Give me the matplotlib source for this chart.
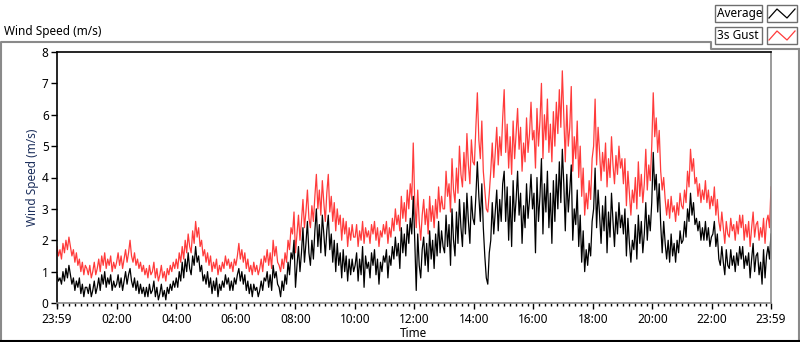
import numpy as np
from matplotlib import pyplot as plt
from matplotlib.lines import Line2D
from matplotlib.patches import Rectangle

plt.rcParams["font.family"] = ["Noto Sans", "DejaVu Sans"]

# 3-minute samples, one row per hour, starting 23:59
gust = [
    1.8, 1.5, 1.7, 1.4, 1.9, 1.6, 2.0, 1.7, 2.1, 1.8, 1.5, 1.7, 1.3, 1.6, 1.2, 1.4, 1.0, 1.3, 0.9, 1.2,
    1.1, 0.9, 1.2, 0.8, 1.0, 1.3, 0.9, 1.1, 1.4, 1.0, 1.5, 1.2, 1.6, 1.1, 1.4, 1.2, 1.5, 1.0, 1.3, 1.1,
    1.3, 1.6, 1.2, 1.5, 1.1, 1.4, 1.7, 1.3, 1.6, 2.0, 1.5, 1.3, 1.6, 1.2, 1.4, 1.1, 1.3, 1.0, 1.2, 0.9,
    1.1, 0.8, 1.2, 0.9, 1.0, 1.3, 0.8, 1.1, 0.7, 0.9, 1.2, 0.8, 1.0, 0.7, 1.1, 0.9, 1.2, 1.0, 1.3, 1.1,
    1.4, 1.1, 1.6, 1.3, 1.8, 1.4, 2.0, 1.6, 2.2, 1.8, 1.6, 2.3, 1.9, 2.6, 2.1, 2.4, 1.8, 2.0, 1.5, 1.7,
    1.3, 1.6, 1.2, 1.5, 1.0, 1.3, 1.1, 1.4, 0.9, 1.2, 1.0, 1.3, 1.1, 1.5, 1.2, 1.4, 1.1, 1.3, 1.0, 1.4,
    1.2, 1.5, 1.9, 1.4, 1.7, 1.3, 1.6, 1.1, 1.4, 1.0, 1.2, 0.9, 1.3, 1.0, 1.2, 0.9, 1.1, 1.4, 1.0, 1.5,
    1.3, 1.7, 1.2, 1.6, 1.1, 2.0, 1.5, 1.8, 1.3, 1.2, 1.0, 1.4, 1.1, 1.6, 1.3, 2.0, 1.7, 2.4, 2.2, 2.9,
    1.6, 2.2, 2.8, 2.0, 2.6, 3.3, 2.4, 2.9, 3.6, 2.7, 2.4, 3.1, 2.6, 3.4, 4.1, 3.0, 3.6, 2.8, 3.9, 3.2,
    2.6, 3.5, 4.1, 2.9, 3.4, 2.6, 3.2, 2.3, 3.0, 2.5, 2.8, 2.0, 2.7, 2.2, 2.6, 1.8, 2.4, 2.0, 2.5, 2.1,
    2.1, 2.5, 1.8, 2.3, 2.0, 2.6, 1.9, 2.4, 2.1, 2.3, 1.9, 2.5, 2.2, 2.6, 2.0, 2.4, 1.8, 2.3, 2.1, 2.5,
    2.2, 2.6, 1.9, 2.4, 2.1, 2.7, 2.3, 3.0, 2.5, 2.8, 2.3, 3.4, 2.7, 3.2, 2.6, 3.6, 3.0, 3.8, 3.3, 5.1,
    3.2, 2.4, 3.6, 2.6, 2.0, 2.8, 3.3, 2.5, 3.0, 2.2, 3.4, 2.6, 3.1, 2.4, 3.3, 2.7, 3.7, 2.9, 3.4, 3.0,
    3.0, 4.2, 3.4, 3.8, 2.9, 4.6, 3.6, 3.2, 4.3, 3.5, 5.0, 4.1, 3.7, 4.8, 3.9, 5.4, 4.4, 3.8, 5.2, 4.5,
    4.4, 5.6, 6.7, 5.2, 4.6, 5.8, 4.2, 3.6, 3.0, 2.9, 3.5, 4.2, 5.1, 4.0, 4.8, 5.6, 4.4, 5.3, 4.7, 5.9,
    6.8, 4.8, 5.7, 4.3, 5.3, 4.1, 5.8, 4.6, 5.4, 6.2, 4.9, 5.6, 4.2, 5.1, 4.5, 5.9, 4.8, 5.4, 6.4, 5.2,
    5.5, 4.3, 6.2, 5.0, 5.8, 7.0, 4.6, 6.0, 5.2, 6.5, 4.8, 5.7, 4.5, 6.1, 5.0, 6.4, 5.4, 6.8, 5.6, 7.4,
    5.9, 4.5, 6.3, 5.0, 5.6, 6.9, 4.2, 5.3, 4.6, 5.8, 4.0, 5.0, 3.4, 4.3, 2.8, 3.5, 3.0, 3.9, 3.3, 4.6,
    5.0, 6.5, 4.4, 5.6, 4.8, 3.9, 4.8, 4.2, 5.1, 3.7, 4.6, 4.0, 5.3, 4.4, 3.8, 4.7, 4.1, 5.0, 4.3, 4.6,
    3.8, 4.6, 3.1, 4.2, 3.5, 2.8, 3.6, 3.2, 4.0, 3.0, 4.5, 3.4, 4.1, 3.2, 3.8, 4.9, 3.6, 4.4, 3.9, 5.0,
    6.7, 5.3, 5.9, 4.8, 5.5, 4.2, 3.6, 4.0, 3.3, 2.8, 3.3, 2.7, 3.4, 2.9, 3.1, 2.6, 3.2, 2.8, 3.5, 3.1,
    3.0, 3.6, 3.2, 4.2, 3.7, 4.9, 4.2, 4.6, 3.8, 4.0, 3.4, 3.8, 3.2, 3.6, 3.3, 3.9, 3.2, 3.6, 3.0, 3.4,
    3.1, 3.7, 2.8, 3.3, 2.6, 2.3, 2.9, 2.4, 1.9, 2.6, 2.2, 2.1, 2.7, 2.3, 2.5, 2.0, 2.6, 2.2, 2.8, 2.4,
    2.8, 2.0, 2.5, 2.1, 2.6, 1.8, 2.4, 2.9, 2.1, 2.5, 2.6, 2.0, 2.4, 2.1, 2.7, 1.9, 2.6, 2.8, 2.4, 3.7,
]
average = [
    0.9, 0.7, 0.8, 0.6, 1.0, 0.7, 1.1, 0.8, 1.2, 0.9, 0.6, 0.8, 0.4, 0.7, 0.5, 0.8, 0.3, 0.6, 0.2, 0.5,
    0.5, 0.3, 0.6, 0.2, 0.4, 0.7, 0.3, 0.5, 0.8, 0.4, 0.9, 0.6, 1.0, 0.5, 0.8, 0.6, 0.9, 0.4, 0.7, 0.5,
    0.6, 0.9, 0.5, 0.8, 0.4, 0.7, 1.0, 0.6, 0.9, 1.1, 0.7, 0.5, 0.8, 0.4, 0.7, 0.3, 0.6, 0.3, 0.5, 0.2,
    0.5, 0.2, 0.6, 0.3, 0.4, 0.7, 0.2, 0.5, 0.1, 0.3, 0.6, 0.2, 0.4, 0.1, 0.5, 0.3, 0.6, 0.4, 0.7, 0.5,
    0.8, 0.5, 1.0, 0.7, 1.3, 0.8, 1.4, 1.0, 1.6, 1.1, 0.9, 1.5, 1.2, 1.8, 1.3, 1.5, 1.0, 1.2, 0.7, 0.9,
    0.6, 1.0, 0.5, 0.8, 0.3, 0.7, 0.4, 0.8, 0.2, 0.6, 0.4, 0.7, 0.5, 0.9, 0.6, 0.8, 0.4, 0.7, 0.4, 0.8,
    0.6, 0.9, 1.1, 0.7, 1.0, 0.6, 0.9, 0.4, 0.7, 0.3, 0.6, 0.2, 0.6, 0.4, 0.5, 0.2, 0.4, 0.7, 0.4, 0.8,
    0.7, 1.0, 0.5, 0.9, 0.4, 1.2, 0.8, 1.0, 0.6, 0.5, 0.2, 0.7, 0.4, 0.9, 0.6, 1.3, 0.9, 1.6, 1.4, 2.0,
    0.5, 1.2, 1.8, 1.0, 1.6, 2.4, 1.3, 1.9, 2.6, 1.6, 1.2, 2.0, 1.4, 2.3, 3.0, 1.8, 2.5, 1.6, 2.8, 2.2,
    1.5, 2.3, 2.8, 1.7, 2.2, 1.3, 2.0, 1.0, 1.9, 1.2, 1.6, 0.8, 1.7, 1.0, 1.5, 0.7, 1.4, 0.9, 1.4, 1.0,
    1.2, 1.6, 0.7, 1.4, 0.9, 1.8, 0.5, 1.5, 1.1, 1.3, 0.8, 1.6, 1.2, 1.7, 0.9, 1.4, 0.6, 1.3, 1.0, 1.5,
    1.3, 1.7, 0.8, 1.5, 1.2, 1.8, 1.4, 2.1, 1.5, 1.9, 1.1, 2.4, 1.6, 2.2, 1.5, 2.5, 1.9, 2.7, 2.2, 3.4,
    2.0, 0.4, 2.2, 1.2, 0.8, 1.7, 2.1, 1.2, 1.9, 1.0, 2.3, 1.4, 2.0, 1.1, 2.2, 1.5, 2.6, 1.6, 2.3, 1.8,
    1.6, 2.8, 1.8, 2.5, 1.2, 3.0, 2.0, 1.5, 2.9, 1.9, 3.3, 2.4, 1.8, 3.2, 2.2, 3.5, 2.6, 1.9, 3.4, 2.7,
    2.5, 3.4, 4.5, 3.4, 2.6, 3.8, 2.4, 1.5, 0.8, 0.6, 1.6, 2.0, 3.2, 2.2, 2.9, 3.6, 2.3, 3.3, 2.6, 3.8,
    4.2, 2.6, 3.7, 2.0, 3.4, 1.8, 3.9, 2.6, 3.3, 4.2, 2.8, 3.5, 1.9, 3.1, 2.4, 3.8, 2.7, 3.3, 4.1, 3.0,
    3.5, 1.6, 4.0, 2.6, 3.4, 4.6, 2.2, 3.8, 2.9, 4.2, 2.4, 3.5, 1.9, 3.9, 2.6, 4.1, 3.0, 4.5, 3.2, 4.9,
    3.8, 2.3, 4.1, 2.9, 3.6, 4.4, 2.0, 3.0, 2.5, 3.6, 1.8, 2.8, 1.3, 2.3, 1.0, 1.7, 1.2, 1.9, 1.5, 2.6,
    3.0, 4.3, 2.4, 3.6, 2.8, 1.9, 3.1, 2.3, 3.4, 1.6, 2.9, 2.1, 3.5, 2.6, 1.8, 2.9, 2.2, 3.2, 2.4, 2.8,
    2.2, 3.0, 1.5, 2.7, 1.9, 1.3, 2.0, 1.7, 2.5, 1.4, 2.8, 1.9, 2.6, 1.6, 2.2, 3.2, 2.0, 2.8, 2.3, 3.2,
    4.8, 3.6, 4.1, 2.9, 3.8, 2.5, 1.6, 2.6, 1.9, 1.4, 2.0, 1.3, 2.2, 1.5, 1.9, 1.3, 2.0, 1.6, 2.3, 1.9,
    2.0, 2.6, 2.1, 3.0, 2.6, 3.5, 2.8, 3.2, 2.5, 2.7, 2.3, 2.6, 2.0, 2.4, 2.0, 2.6, 2.0, 2.4, 1.8, 2.1,
    2.2, 2.6, 1.8, 2.2, 1.4, 1.2, 1.8, 1.3, 0.9, 1.7, 1.2, 1.1, 1.7, 1.2, 1.5, 1.0, 1.6, 1.2, 1.8, 1.4,
    1.8, 1.1, 1.5, 1.2, 1.6, 0.8, 1.4, 1.9, 1.0, 1.5, 1.6, 0.9, 1.3, 0.6, 1.7, 0.8, 1.5, 1.8, 1.4, 2.2,
]
tick_labels = ["23:59", "02:00", "04:00", "06:00", "08:00", "10:00",
               "12:00", "14:00", "16:00", "18:00", "20:00", "22:00", "23:59"]

# minutes since 23:59
minutes = np.linspace(0, 1440, len(gust))
major = [0] + [121 + 120 * i for i in range(11)] + [1440]

W, H = 800, 342
fig = plt.figure(figsize=(W / 100, H / 100), dpi=100)
ax = fig.add_axes([57 / W, 1 - 303 / H, 714 / W, 251 / H])

ax.plot(minutes, gust, color="#ff3b3b", lw=0.9)
ax.plot(minutes, average, color="black", lw=0.9)

ax.set_xlim(0, 1440)
ax.set_ylim(0, 8)
ax.set_yticks(range(9))
ax.set_xticks(major)
ax.set_xticklabels(tick_labels)
ax.set_xticks(np.arange(1, 1440, 12), minor=True)
ax.tick_params(axis="both", labelsize=8.5, direction="out", length=4, width=1, pad=2)
ax.tick_params(axis="x", which="minor", length=2.5, width=1)
ax.tick_params(axis="x", pad=3)

for side in ("top", "left"):
    ax.spines[side].set_color("black")
for side in ("bottom", "right"):
    ax.spines[side].set_color("#8a8a8a")
for sp in ax.spines.values():
    sp.set_linewidth(1.2)

ax.set_xlabel("Time", fontsize=8.5, labelpad=1)
ax.set_ylabel("Wind Speed (m/s)", fontsize=8.5, color="#1c2f5c", labelpad=2)


# panel frame and legend, in pixel coords
def fx(x):
    return x / W


def fy(y):
    return 1 - y / H


def line(xs, ys, color, lw=1.0):
    fig.add_artist(Line2D([fx(x) for x in xs], [fy(y) for y in ys],
                          color=color, lw=lw))


line([1, 1, 711, 711, 799], [340, 42, 42, 49, 49], "#8a8a8a", 1.5)
line([799, 799], [49, 340], "#8a8a8a", 1.5)
line([1, 799], [340.5, 340.5], "black", 1.5)

fig.text(fx(4), fy(32), "Wind Speed (m/s)", fontsize=8.5, va="center", ha="left")

for row, (name, col) in enumerate([("Average", "black"), ("3s Gust", "#ff3b3b")]):
    y0 = 5 + row * 22
    fig.add_artist(Rectangle((fx(715), fy(y0 + 17)), 47 / W, 17 / H,
                             facecolor="white", edgecolor="#6e6e6e", lw=1.0))
    fig.add_artist(Rectangle((fx(767), fy(y0 + 17)), 30 / W, 17 / H,
                             facecolor="white", edgecolor="#6e6e6e", lw=1.0))
    fig.text(fx(717), fy(y0 + 8.5), name, fontsize=8.5, va="center", ha="left")
    line([769, 777, 787, 795], [y0 + 13, y0 + 4, y0 + 13, y0 + 4], col, 0.9)

fig.savefig("out.png", dpi=100)
